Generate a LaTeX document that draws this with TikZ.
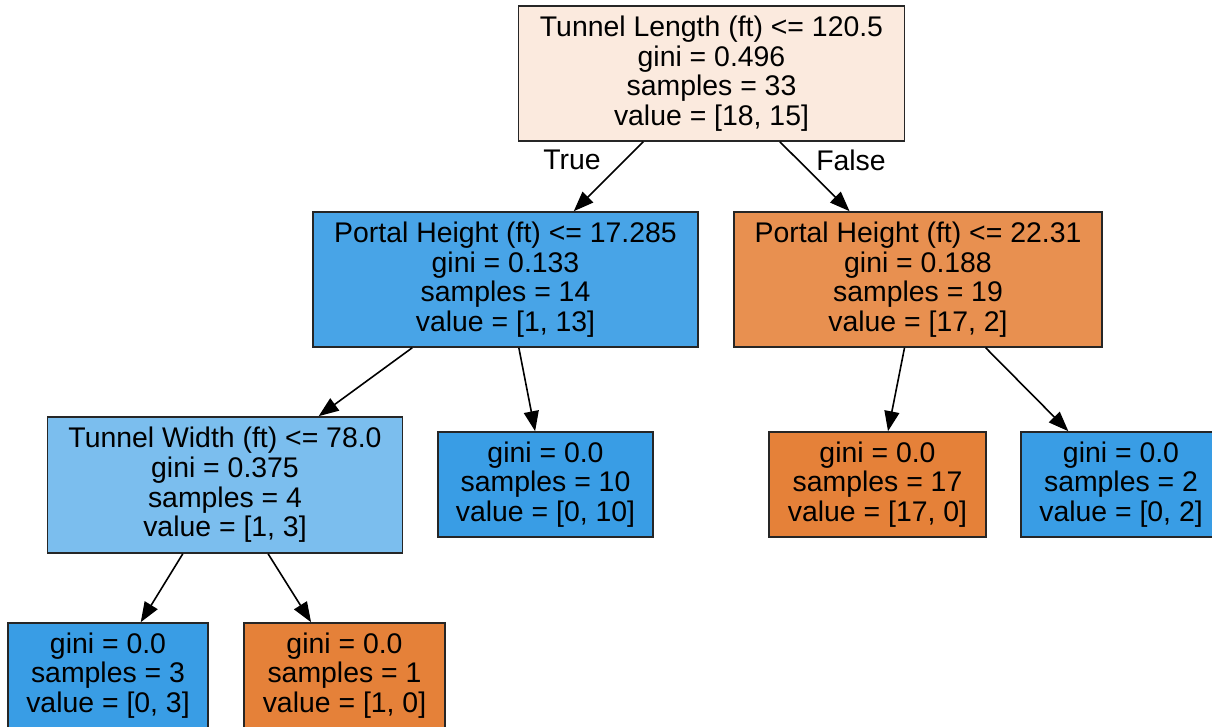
\documentclass[tikz,border=0pt]{standalone}
\usepackage{fontspec}
\setmainfont{Liberation Sans}
\usetikzlibrary{arrows.meta}

% sklearn-style class colours
\definecolor{rootfill}{HTML}{FBEADE}
\definecolor{blueA}{HTML}{48A4E7}
\definecolor{orangeA}{HTML}{E89050}
\definecolor{blueB}{HTML}{7BBEEE}
\definecolor{bluepure}{HTML}{399DE5}
\definecolor{orangepure}{HTML}{E58139}

\tikzset{
  treenode/.style={draw=black!85, line width=1.6pt, rectangle, align=center,
    inner sep=0pt, font=\fontsize{28.4}{29.6}\selectfont},
  split/.style={treenode, minimum height=135pt},
  leaf/.style={treenode, minimum height=105pt},
  edge/.style={line width=1.6pt, -{Triangle[length=20pt,width=15pt]}},
  edgelabel/.style={font=\fontsize{28.4}{29.6}\selectfont}
}

\begin{document}
\begin{tikzpicture}[x=1pt,y=1pt]
  \useasboundingbox (0,0) rectangle (1212,727);
  \begin{scope}
  \clip (0,0) rectangle (1212,727);

  % decision nodes
  \node[split, fill=rootfill, minimum width=386pt] (root) at (711.5,653.5)
    {Tunnel Length (ft) <= 120.5\\gini = 0.496\\samples = 33\\value = [18, 15]};
  \node[split, fill=blueA, minimum width=385pt] (left) at (505.5,447.5)
    {Portal Height (ft) <= 17.285\\gini = 0.133\\samples = 14\\value = [1, 13]};
  \node[split, fill=orangeA, minimum width=368pt] (right) at (918,447.5)
    {Portal Height (ft) <= 22.31\\gini = 0.188\\samples = 19\\value = [17, 2]};
  \node[split, fill=blueB, minimum width=355pt, minimum height=136pt] (ll) at (225,242)
    {Tunnel Width (ft) <= 78.0\\gini = 0.375\\samples = 4\\value = [1, 3]};

  % leaves
  \node[leaf, fill=bluepure, minimum width=215pt] (lr) at (545.5,242.5)
    {gini = 0.0\\samples = 10\\value = [0, 10]};
  \node[leaf, fill=orangepure, minimum width=217pt] (rl) at (877.5,242.5)
    {gini = 0.0\\samples = 17\\value = [17, 0]};
  \node[leaf, fill=bluepure, minimum width=200pt] (rr) at (1121,242.5)
    {gini = 0.0\\samples = 2\\value = [0, 2]};
  \node[leaf, fill=bluepure, minimum width=200pt] (lll) at (108,51.5)
    {gini = 0.0\\samples = 3\\value = [0, 3]};
  \node[leaf, fill=orangepure, minimum width=201pt] (llr) at (344.5,51.5)
    {gini = 0.0\\samples = 1\\value = [1, 0]};

  % connectors
  \draw[edge] (root) -- (left);
  \draw[edge] (root) -- (right);
  \draw[edge] (left) -- (ll);
  \draw[edge] (left) -- (lr);
  \draw[edge] (right) -- (rl);
  \draw[edge] (right) -- (rr);
  \draw[edge] (ll) -- (lll);
  \draw[edge] (ll) -- (llr);

  % branch labels
  \node[edgelabel] (truelbl) at (572,567) {True};
  \node[edgelabel] (falselbl) at (851,567) {False};
  \end{scope}
\end{tikzpicture}
\end{document}
